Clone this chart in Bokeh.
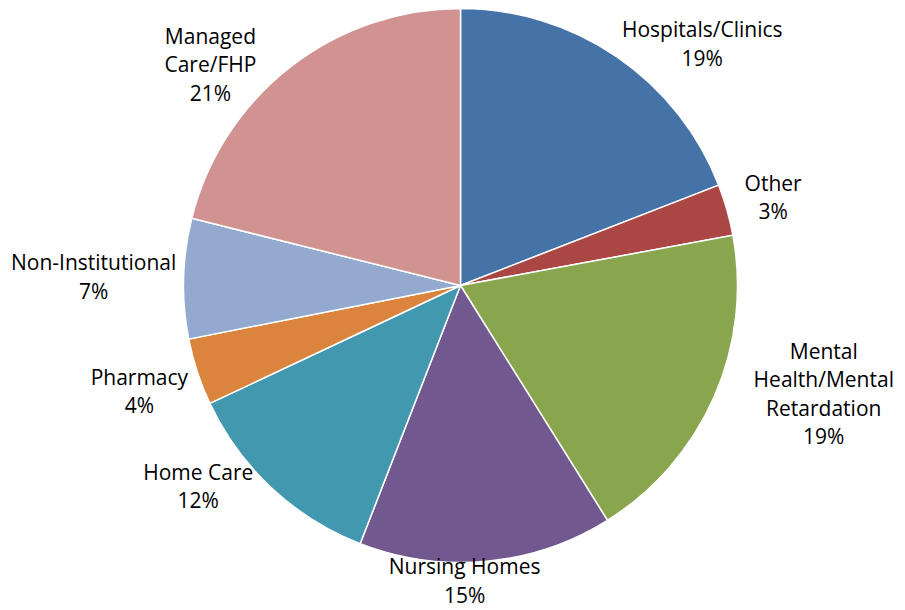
import math
from bokeh.plotting import figure
from bokeh.models import ColumnDataSource, Range1d
from bokeh.core.properties import value
from bokeh.embed import file_html
from bokeh.resources import INLINE

# ---- data (clockwise from 12 o'clock) ----
categories = ["Hospitals/Clinics", "Other", "Mental Health/Mental Retardation",
              "Nursing Homes", "Home Care", "Pharmacy", "Non-Institutional",
              "Managed Care/FHP"]
display_names = ["Hospitals/Clinics", "Other", "Mental\nHealth/Mental\nRetardation",
                 "Nursing Homes", "Home Care", "Pharmacy", "Non-Institutional",
                 "Managed\nCare/FHP"]
shares = [19.1, 3.0, 19.0, 14.8, 12.1, 3.9, 7.0, 21.1]
colors = ["#4572A7", "#AA4643", "#89A54E", "#71588F",
          "#4198AF", "#DB843D", "#93A9CF", "#D19392"]

# ---- layout (best-fit label placement: angular shift in degrees, distance in px) ----
label_shift_deg = [10.6, 0.0, -7.2, 4.6, 9.6, 0.0, 0.0, -10.5]
label_dist = [342, 325, 379, 295, 330, 338, 367, 334]

W, H = 905, 610
R = 277
CX, CY = 460, H - 285

total = sum(shares)
starts, ends, mids = [], [], []
cum = 0.0
for s in shares:
    f0 = cum / total
    cum += s
    f1 = cum / total
    starts.append(math.pi / 2 - 2 * math.pi * f0)
    ends.append(math.pi / 2 - 2 * math.pi * f1)
    mids.append(360.0 * (f0 + f1) / 2)

src = ColumnDataSource(dict(start=starts, end=ends, color=colors, name=categories))

p = figure(width=W, height=H, output_backend="svg", toolbar_location=None,
           x_range=Range1d(0, W), y_range=Range1d(0, H),
           x_axis_type=None, y_axis_type=None, min_border=0)
p.grid.visible = False
p.outline_line_color = None
p.background_fill_color = "white"
p.border_fill_color = "white"

p.wedge(x=CX, y=CY, radius=R, radius_units="screen",
        start_angle="start", end_angle="end", direction="clock",
        fill_color="color", line_color="white", line_width=1.5, source=src)

lx, ly, ltxt = [], [], []
for name, s, m, da, d in zip(display_names, shares, mids, label_shift_deg, label_dist):
    th = math.radians(m + da)
    lx.append(CX + d * math.sin(th))
    ly.append(CY + d * math.cos(th))
    ltxt.append(f"{name}\n{round(s)}%")

lsrc = ColumnDataSource(dict(x=lx, y=ly, text=ltxt))
p.text(x="x", y="y", text="text", source=lsrc, text_align="center",
       text_baseline="middle", text_font=value("Open Sans"),
       text_font_size="21px", text_color="#000000", text_line_height=1.02)

open("out.html", "w").write(file_html(p, INLINE))
